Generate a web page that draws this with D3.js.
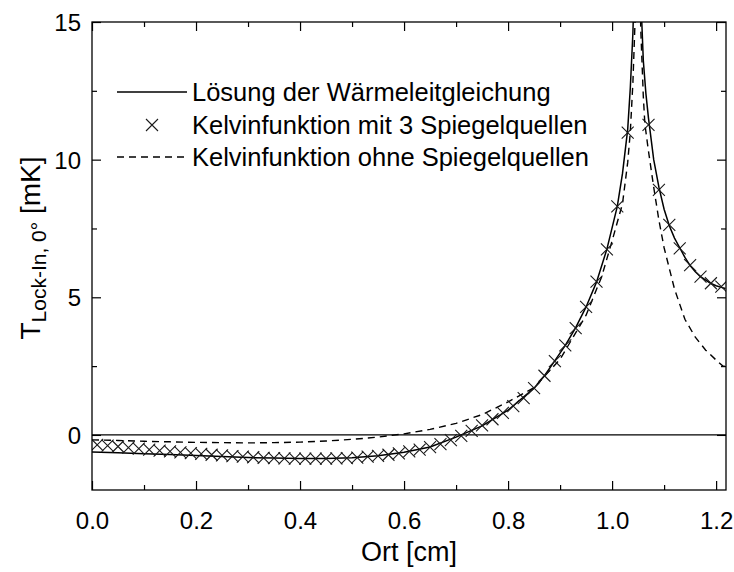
<!DOCTYPE html>
<html><head><meta charset="utf-8">
<script src="https://cdn.jsdelivr.net/npm/d3@7"></script>
<style>body{margin:0;background:#fff}svg{display:block}text{font-family:"Liberation Sans",Arial,sans-serif;fill:#000}</style>
</head><body>
<svg id="c" width="734" height="572"></svg>
<script>
// ---- data ----
const xSolid = [0, 0.05, 0.1, 0.15, 0.2, 0.25, 0.3, 0.35, 0.4, 0.45, 0.5, 0.55, 0.6, 0.65, 0.7, 0.75, 0.8, 0.85, 0.87, 0.89, 0.91, 0.93, 0.95, 0.97, 0.99, 1.01, 1.02, 1.03, 1.035, 1.04, 1.045, 1.05, 1.055, 1.06, 1.065, 1.07, 1.08, 1.09, 1.1, 1.11, 1.12, 1.13, 1.14, 1.15, 1.16, 1.17, 1.18, 1.19, 1.2, 1.21, 1.218];
const ySolid = [-0.62, -0.65, -0.68, -0.71, -0.75, -0.78, -0.82, -0.84, -0.86, -0.86, -0.83, -0.76, -0.63, -0.44, -0.08, 0.33, 0.9, 1.7, 2.15, 2.7, 3.25, 3.9, 4.65, 5.55, 6.75, 8.3, 9.5, 11.1, 12.6, 14.6, 18, 24, 16, 13.6, 12.4, 11.5, 10.0, 9.0, 8.2, 7.6, 7.15, 6.8, 6.45, 6.15, 5.93, 5.75, 5.62, 5.5, 5.42, 5.36, 5.32];

const xDash = [0, 0.05, 0.1, 0.15, 0.2, 0.25, 0.3, 0.35, 0.4, 0.45, 0.5, 0.55, 0.6, 0.65, 0.7, 0.75, 0.8, 0.85, 0.9, 0.95, 0.98, 1.0, 1.02, 1.03, 1.035, 1.04, 1.045, 1.05, 1.055, 1.06, 1.063, 1.07, 1.08, 1.09, 1.1, 1.12, 1.14, 1.16, 1.18, 1.2, 1.213, 1.218];
const yDash = [-0.18, -0.2, -0.23, -0.25, -0.27, -0.28, -0.29, -0.28, -0.26, -0.22, -0.16, -0.08, 0.04, 0.2, 0.42, 0.74, 1.2, 1.72, 2.75, 4.35, 5.75, 7.05, 8.4, 9.9, 11.0, 12.8, 15.5, 22, 14.8, 12.3, 11.3, 10.3, 9.0, 7.8, 6.8, 5.3, 4.2, 3.55, 3.08, 2.72, 2.5, 2.5];

const xCross = [0.01, 0.03, 0.05, 0.07, 0.09, 0.11, 0.13, 0.15, 0.17, 0.19, 0.21, 0.23, 0.25, 0.27, 0.29, 0.31, 0.33, 0.35, 0.37, 0.39, 0.41, 0.43, 0.45, 0.47, 0.49, 0.51, 0.53, 0.55, 0.57, 0.59, 0.61, 0.63, 0.65, 0.67, 0.69, 0.71, 0.73, 0.75, 0.77, 0.79, 0.81, 0.83, 0.85, 0.87, 0.89, 0.91, 0.93, 0.95, 0.97, 0.99, 1.01, 1.03, 1.07, 1.09, 1.11, 1.13, 1.15, 1.17, 1.19, 1.21];
const yCross = [-0.36, -0.39, -0.42, -0.46, -0.5, -0.53, -0.57, -0.6, -0.63, -0.66, -0.69, -0.72, -0.74, -0.77, -0.79, -0.81, -0.83, -0.84, -0.85, -0.86, -0.86, -0.86, -0.86, -0.85, -0.84, -0.82, -0.79, -0.76, -0.72, -0.67, -0.6, -0.53, -0.44, -0.33, -0.19, -0.03, 0.15, 0.35, 0.57, 0.8, 1.05, 1.34, 1.7, 2.15, 2.68, 3.25, 3.88, 4.65, 5.57, 6.74, 8.3, 10.98, 11.26, 8.9, 7.63, 6.78, 6.17, 5.75, 5.51, 5.39];

const xTicks = [0, 0.2, 0.4, 0.6, 0.8, 1.0, 1.2];
const xMinor = [0.1, 0.3, 0.5, 0.7, 0.9, 1.1];
const yTicks = [0, 5, 10, 15];
const yMinor = [2.5, 7.5, 12.5];
const legendLabels = ["Lösung der Wärmeleitgleichung", "Kelvinfunktion mit 3 Spiegelquellen", "Kelvinfunktion ohne Spiegelquellen"];
const xTitle = "Ort [cm]";

// ---- layout ----
const L = 92, R = 726, T = 22, B = 490;
const svg = d3.select("#c");
const x = d3.scaleLinear().domain([0, 1.219]).range([L, R]);
const y = d3.scaleLinear().domain([-2, 15]).range([B, T]);

svg.append("defs").append("clipPath").attr("id", "clip")
  .append("rect").attr("x", L).attr("y", T).attr("width", R - L).attr("height", B - T);

const plot = svg.append("g").attr("clip-path", "url(#clip)");

// zero line
plot.append("line").attr("x1", L).attr("x2", R).attr("y1", y(0)).attr("y2", y(0))
  .attr("stroke", "#000").attr("stroke-width", 1.3);

const line = d3.line().x(d => x(d[0])).y(d => y(d[1]));
plot.append("path").datum(xDash.map((v, i) => [v, yDash[i]])).attr("d", line)
  .attr("fill", "none").attr("stroke", "#000").attr("stroke-width", 1.4).attr("stroke-dasharray", "7,5");
plot.append("path").datum(xSolid.map((v, i) => [v, ySolid[i]])).attr("d", line)
  .attr("fill", "none").attr("stroke", "#000").attr("stroke-width", 1.5);

const cs = 6;
function cross(g, cx, cy) {
  g.append("path").attr("d", `M${cx - cs},${cy - cs}L${cx + cs},${cy + cs}M${cx - cs},${cy + cs}L${cx + cs},${cy - cs}`)
    .attr("stroke", "#1a1a1a").attr("stroke-width", 1.1).attr("fill", "none");
}
xCross.forEach((v, i) => cross(plot, x(v), y(yCross[i])));

// axes (ticks inward on all sides)
const fs = 24;
function axisG(axis, tf) {
  const g = svg.append("g").attr("transform", tf).call(axis);
  g.select(".domain").remove();
  g.selectAll("line").attr("stroke", "#000").attr("stroke-width", 1.2);
  g.selectAll("text").style("font-size", fs + "px").attr("fill", "#000").style("font-family", '"Liberation Sans",Arial,sans-serif');
  return g;
}
const xfmt = d3.format(".1f");
const gx = axisG(d3.axisBottom(x).tickValues(xTicks).tickSize(-9).tickFormat(xfmt), `translate(0,${B})`);
gx.selectAll("text").attr("y", 39).attr("dy", null);
axisG(d3.axisBottom(x).tickValues(xMinor).tickSize(-5).tickFormat(""), `translate(0,${B})`);
axisG(d3.axisTop(x).tickValues(xTicks).tickSize(-9).tickFormat(""), `translate(0,${T})`);
axisG(d3.axisTop(x).tickValues(xMinor).tickSize(-5).tickFormat(""), `translate(0,${T})`);
const gy = axisG(d3.axisLeft(y).tickValues(yTicks).tickSize(-9).tickFormat(d3.format("d")), `translate(${L},0)`);
gy.selectAll("text").attr("x", -11).attr("dy", "0.36em").attr("text-anchor", "end");
axisG(d3.axisLeft(y).tickValues(yMinor).tickSize(-5).tickFormat(""), `translate(${L},0)`);
axisG(d3.axisRight(y).tickValues(yTicks).tickSize(-9).tickFormat(""), `translate(${R},0)`);
axisG(d3.axisRight(y).tickValues(yMinor).tickSize(-5).tickFormat(""), `translate(${R},0)`);

// frame
svg.append("rect").attr("x", L).attr("y", T).attr("width", R - L).attr("height", B - T)
  .attr("fill", "none").attr("stroke", "#000").attr("stroke-width", 1.3);

// titles
svg.append("text").attr("x", (L + R) / 2).attr("y", 561).attr("text-anchor", "middle")
  .style("font-size", "27px").text(xTitle);
const yt = svg.append("text").attr("transform", "translate(40,248) rotate(-90)").attr("text-anchor", "middle")
  .style("font-size", "28px");
yt.append("tspan").text("T");
yt.append("tspan").attr("dy", 6).style("font-size", "21px").text("Lock-In, 0°");
yt.append("tspan").attr("dy", -6).text(" [mK]");

// legend
const lg = svg.append("g");
const rows = [92, 125, 157];
const lfs = 25.5;
lg.append("line").attr("x1", 117).attr("x2", 187).attr("y1", rows[0]).attr("y2", rows[0]).attr("stroke", "#000").attr("stroke-width", 1.5);
cross(lg, 152, rows[1]);
lg.append("line").attr("x1", 117).attr("x2", 187).attr("y1", rows[2]).attr("y2", rows[2]).attr("stroke", "#000").attr("stroke-width", 1.4).attr("stroke-dasharray", "7,5");
legendLabels.forEach((t, i) => lg.append("text").attr("x", 192).attr("y", rows[i] + 9).style("font-size", lfs + "px").text(t));
</script>
</body></html>
